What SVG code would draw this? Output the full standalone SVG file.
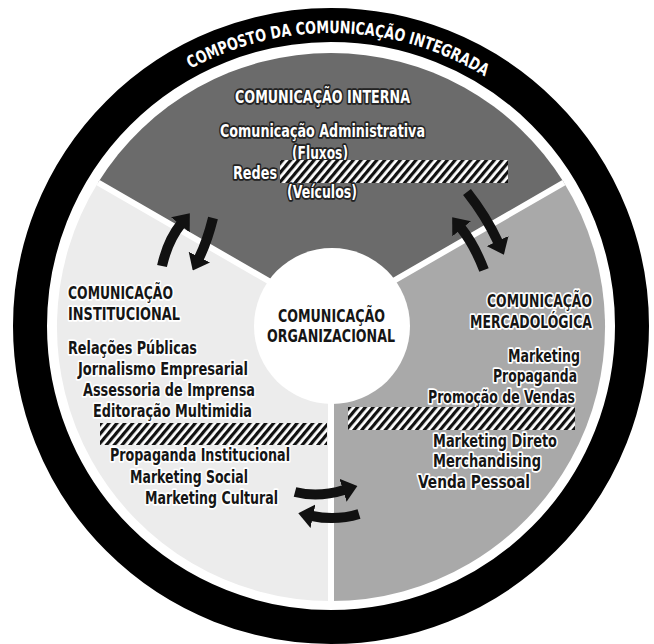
<svg xmlns="http://www.w3.org/2000/svg" width="654" height="644" viewBox="0 0 654 644">
<defs>
<pattern id="hatch" width="6" height="6" patternUnits="userSpaceOnUse" patternTransform="rotate(40)">
<rect width="6" height="6" fill="#fff"/><rect width="3.2" height="6" fill="#111"/>
</pattern>
<marker id="ah" markerUnits="userSpaceOnUse" markerWidth="15" markerHeight="24" refX="1" refY="12" orient="auto" viewBox="0 0 15 24"><path d="M0,0 L15,12 L0,24 z" fill="#111"/></marker>
<path id="titleArc" d="M 81.2 172.9 A 293 293 0 0 1 588.5 186.2"/>
</defs>
<style>
text{font-family:"DejaVu Sans Condensed","DejaVu Sans","Liberation Sans",sans-serif;font-stretch:condensed;font-weight:bold;font-size:17px;}
.w{fill:#fff;stroke:#222;stroke-width:3.5;paint-order:stroke;stroke-linejoin:round}
.d{fill:#151515;stroke:#fff;stroke-width:3.5;paint-order:stroke;stroke-linejoin:round}
.c{fill:#151515}
.arr{fill:none;stroke:#111;stroke-width:10;marker-end:url(#ah)}
.sep{stroke:#fff;stroke-width:6;fill:none}
</style>
<rect width="654" height="644" fill="#fff"/>
<g id="ring">
<circle cx="331" cy="326" r="301" fill="none" stroke="#000" stroke-width="34"/>
<text font-size="19" fill="#fff"><textPath href="#titleArc" startOffset="50%" text-anchor="middle" textLength="308" lengthAdjust="spacingAndGlyphs">COMPOSTO DA COMUNICAÇÃO INTEGRADA</textPath></text>
</g>
<g id="sector-interna">
<path d="M 331 317 L 98.1 182.6 A 274 274 0 0 1 563.9 182.6 Z" fill="#6b6b6b"/>
<text class="w" x="235" y="103" textLength="175" lengthAdjust="spacingAndGlyphs">COMUNICAÇÃO INTERNA</text>
<text class="w" x="220" y="137" textLength="205" lengthAdjust="spacingAndGlyphs">Comunicação Administrativa</text>
<text class="w" x="292" y="159" textLength="56" lengthAdjust="spacingAndGlyphs">(Fluxos)</text>
<text class="w" x="233" y="179" textLength="44" lengthAdjust="spacingAndGlyphs">Redes</text>
<rect x="280" y="160" width="228" height="23" fill="url(#hatch)"/>
<text class="w" x="287" y="198" textLength="70" lengthAdjust="spacingAndGlyphs">(Veículos)</text>
</g>
<g id="sector-institucional">
<path d="M 331 317 L 331 601 A 274 274 0 0 1 98.1 182.6 Z" fill="#ececec"/>
<text class="d" x="68" y="299" textLength="105" lengthAdjust="spacingAndGlyphs">COMUNICAÇÃO</text>
<text class="d" x="68" y="320" textLength="112" lengthAdjust="spacingAndGlyphs">INSTITUCIONAL</text>
<text class="d" x="68" y="354" textLength="129" lengthAdjust="spacingAndGlyphs">Relações Públicas</text>
<text class="d" x="78" y="375" textLength="170" lengthAdjust="spacingAndGlyphs">Jornalismo Empresarial</text>
<text class="d" x="83" y="396" textLength="172" lengthAdjust="spacingAndGlyphs">Assessoria de Imprensa</text>
<text class="d" x="93" y="417" textLength="159" lengthAdjust="spacingAndGlyphs">Editoração Multimidia</text>
<rect x="100" y="423" width="227" height="22" fill="url(#hatch)"/>
<text class="d" x="110" y="461" textLength="180" lengthAdjust="spacingAndGlyphs">Propaganda Institucional</text>
<text class="d" x="130" y="483" textLength="118" lengthAdjust="spacingAndGlyphs">Marketing Social</text>
<text class="d" x="145" y="504" textLength="133" lengthAdjust="spacingAndGlyphs">Marketing Cultural</text>
</g>
<g id="sector-mercadologica">
<path d="M 331 317 L 563.9 182.6 A 274 274 0 0 1 331 601 Z" fill="#a9a9a9"/>
<text class="d" x="487" y="307" textLength="105" lengthAdjust="spacingAndGlyphs">COMUNICAÇÃO</text>
<text class="d" x="470" y="328" textLength="122" lengthAdjust="spacingAndGlyphs">MERCADOLÓGICA</text>
<text class="d" x="508" y="362" textLength="72" lengthAdjust="spacingAndGlyphs">Marketing</text>
<text class="d" x="493" y="382" textLength="84" lengthAdjust="spacingAndGlyphs">Propaganda</text>
<text class="d" x="428" y="403" textLength="147" lengthAdjust="spacingAndGlyphs">Promoção de Vendas</text>
<rect x="348" y="407" width="227" height="23" fill="url(#hatch)"/>
<text class="d" x="433" y="447" textLength="124" lengthAdjust="spacingAndGlyphs">Marketing Direto</text>
<text class="d" x="433" y="467" textLength="108" lengthAdjust="spacingAndGlyphs">Merchandising</text>
<text class="d" x="418" y="488" textLength="112" lengthAdjust="spacingAndGlyphs">Venda Pessoal</text>
</g>
<g id="separators">
<path class="sep" d="M 331 317 L 98.1 182.6 M 331 317 L 563.9 182.6 M 331 317 L 331 602"/>
</g>
<g id="center">
<circle cx="332" cy="326" r="78" fill="#fff"/>
<text class="c" x="278" y="322" textLength="107" lengthAdjust="spacingAndGlyphs">COMUNICAÇÃO</text>
<text class="c" x="267" y="342" textLength="128" lengthAdjust="spacingAndGlyphs">ORGANIZACIONAL</text>
</g>
<g id="connectors">
<path class="arr" d="M 162 266 Q 168 240 181 224"/>
<path class="arr" d="M 213 218 Q 207 242 199 258"/>
<path class="arr" d="M 484 270 Q 474 244 461 228"/>
<path class="arr" d="M 467 192 Q 486 216 498 242"/>
<path class="arr" d="M 295 492 Q 318 498 344 490"/>
<path class="arr" d="M 359 514 Q 336 521 312 516"/>
</g>
</svg>
